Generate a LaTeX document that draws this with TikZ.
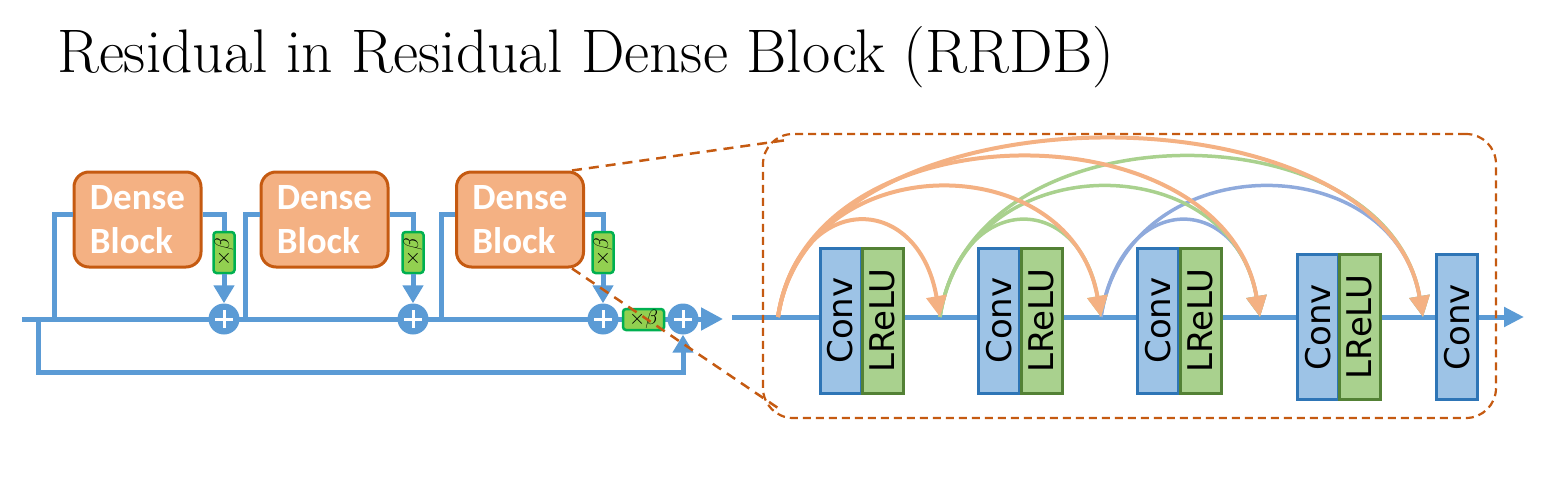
\documentclass[tikz,border=0pt]{standalone}
\usepackage{fontspec}
\newfontfamily\blockfont{Carlito}
\newfontfamily\layerfont{DejaVu Sans}
\usetikzlibrary{arrows.meta}

\definecolor{lineblue}{HTML}{5B9BD5}
\definecolor{convfill}{HTML}{9DC3E6}
\definecolor{convdraw}{HTML}{2E75B6}
\definecolor{relufill}{HTML}{A9D18E}
\definecolor{reludraw}{HTML}{538135}
\definecolor{blockfill}{HTML}{F4B183}
\definecolor{blockdraw}{HTML}{C55A11}
\definecolor{betafill}{HTML}{92D050}
\definecolor{betadraw}{HTML}{00B050}
\definecolor{arcorange}{HTML}{F4B183}
\definecolor{arcgreen}{HTML}{A9D18E}
\definecolor{arcblue}{HTML}{8FAADC}

\begin{document}
\begin{tikzpicture}[x=1pt,y=-1pt,
  flow/.style={draw=lineblue,line width=5pt},
  flowarrow/.style={flow,-{Triangle[length=18pt,width=20pt]}},
  dense/.style={draw=blockdraw,fill=blockfill,line width=3pt,rounded corners=15pt,
    minimum width=127pt,minimum height=95pt,inner sep=0pt,text=white,align=left,
    font=\blockfont\bfseries\fontsize{37}{44}\selectfont},
  betabox/.style={draw=betadraw,fill=betafill,line width=2.5pt,rounded corners=3pt,
    minimum width=41pt,minimum height=21pt,inner sep=0pt,font=\fontsize{22}{22}\selectfont},
  addnode/.style={circle,fill=lineblue,minimum size=31pt,inner sep=0pt,
    path picture={\draw[white,line width=3pt]
      ([xshift=-9pt]path picture bounding box.center) -- ([xshift=9pt]path picture bounding box.center)
      ([yshift=-9pt]path picture bounding box.center) -- ([yshift=9pt]path picture bounding box.center);}},
  layer/.style={rotate=90,minimum width=145pt,minimum height=41pt,line width=3pt,inner sep=0pt,
    font=\layerfont\fontsize{34}{34}\selectfont},
  conv/.style={layer,draw=convdraw,fill=convfill},
  relu/.style={layer,draw=reludraw,fill=relufill},
  skiparc/.style={line width=4pt,-{Triangle[length=21pt,width=20pt]}},
  zoomline/.style={draw=blockdraw,line width=2.5pt,dash pattern=on 10pt off 7pt}]
\useasboundingbox (0,0) rectangle (1552,492);

\node[anchor=base west,inner sep=0pt,font=\fontsize{61.5}{61.5}\selectfont] (title) at (57,73)
  {Residual in Residual Dense Block (RRDB)};

% RRDB
\coordinate (inL) at (22,319);
\coordinate (outL) at (723,319);
\draw[flow,-{Triangle[length=22pt,width=22pt]}] (inL) -- (outL);

\node[dense] (blk1) at (137.5,219.5) {Dense\\Block};
\node[dense] (blk2) at (324.5,219.5) {Dense\\Block};
\node[dense] (blk3) at (520,219.5) {Dense\\Block};

\coordinate (split1) at (54,319);
\coordinate (split2) at (245,319);
\coordinate (split3) at (441,319);
\coordinate (loop) at (38,319);

\node[betabox,rotate=90] (beta1) at (224,252.5) {$\times\beta$};
\node[betabox,rotate=90] (beta2) at (413,252.5) {$\times\beta$};
\node[betabox,rotate=90] (beta3) at (603,252.5) {$\times\beta$};
\node[betabox] (beta4) at (643.5,319.5) {$\times\beta$};

\node[addnode] (add1) at (224,319) {};
\node[addnode] (add2) at (413,319) {};
\node[addnode] (add3) at (603,319) {};
\node[addnode] (add4) at (683,319) {};

\draw[flow] (split1) |- ([yshift=5.5pt]blk1.west);
\draw[flow] (split2) |- ([yshift=5.5pt]blk2.west);
\draw[flow] (split3) |- ([yshift=5.5pt]blk3.west);
\draw[flow] ([yshift=5.5pt]blk1.east) -| (beta1);
\draw[flow] ([yshift=5.5pt]blk2.east) -| (beta2);
\draw[flow] ([yshift=5.5pt]blk3.east) -| (beta3);
\draw[flowarrow] (beta1) -- (add1);
\draw[flowarrow] (beta2) -- (add2);
\draw[flowarrow] (beta3) -- (add3);
\draw[flowarrow] (loop) -- (38,372) -| (add4);

% dense block
\coordinate (inR) at (732,317);
\coordinate (outR) at (1524,317);
\draw[flow,-{Triangle[length=20pt,width=19pt]}] (inR) -- (outR);

\node[conv] (conv1) at (840.5,320.5) {Conv};
\node[relu] (relu1) at (882.5,320.5) {LReLU};
\node[conv] (conv2) at (999,320.5) {Conv};
\node[relu] (relu2) at (1041.5,320.5) {LReLU};
\node[conv] (conv3) at (1158,320.5) {Conv};
\node[relu] (relu3) at (1200.5,320.5) {LReLU};
\node[conv] (conv4) at (1318,327) {Conv};
\node[relu] (relu4) at (1359.5,327) {LReLU};
\node[conv] (conv5) at (1457,327) {Conv};

\coordinate (p0) at (778,317);
\coordinate (p1) at (940,317);
\coordinate (p2) at (1101,317);
\coordinate (p3) at (1260,317);
\coordinate (p4) at (1423,317);

\draw[skiparc,arcblue,line width=3.5pt] (p2) .. controls +(20,-127) and +(-22,-127) .. (p3);
\draw[skiparc,arcblue,line width=3.5pt] (p2) .. controls +(26,-172) and +(-30,-172) .. (p4);
\draw[skiparc,arcgreen,line width=3.5pt] (p1) .. controls +(20,-127) and +(-22,-127) .. (p2);
\draw[skiparc,arcgreen,line width=3.5pt] (p1) .. controls +(26,-172) and +(-30,-172) .. (p3);
\draw[skiparc,arcgreen,line width=3.5pt] (p1) .. controls +(30,-212) and +(-36,-212) .. (p4);
\draw[skiparc,arcorange] (p0) .. controls +(20,-127) and +(-22,-127) .. (p1);
\draw[skiparc,arcorange] (p0) .. controls +(26,-172) and +(-30,-172) .. (p2);
\draw[skiparc,arcorange] (p0) .. controls +(30,-212) and +(-36,-212) .. (p3);
\draw[skiparc,arcorange] (p0) .. controls +(34,-236) and +(-40,-236) .. (p4);

\node[draw=blockdraw,line width=2.2pt,dash pattern=on 8pt off 5pt,rounded corners=30pt,
  minimum width=733pt,minimum height=284pt] (zoom) at (1129.5,276) {};
\coordinate (zoomtop) at (787,140);
\coordinate (zoombot) at (778,408);
\draw[zoomline] ([xshift=-13pt]blk3.north east) -- (zoomtop);
\draw[zoomline] ([xshift=-13pt]blk3.south east) -- (zoombot);
\end{tikzpicture}
\end{document}
